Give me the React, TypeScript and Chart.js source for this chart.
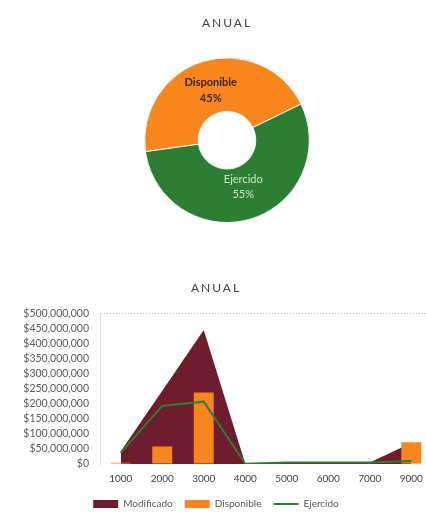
import React, { useEffect, useRef } from 'react';
import { Chart, registerables } from 'chart.js';

Chart.register(...registerables);

// ---- Data ----
const donutLabels = ['Disponible', 'Ejercido'];
const donutValues = [45, 55];

const categories = ['1000', '2000', '3000', '4000', '5000', '6000', '7000', '9000'];
const modificado = [42e6, 243e6, 445e6, 1e6, 5e6, 5e6, 5e6, 70e6];
const disponible = [4e6, 58e6, 237e6, 0, 0, 0, 0, 72e6];
const ejercido = [38e6, 193e6, 207e6, 1e6, 5e6, 5e6, 5e6, 10e6];

const yMax = 500e6;
const yStep = 50e6;

// ---- Styles ----
const FONT = 'Lato, "Open Sans", "DejaVu Sans", sans-serif';
const MAROON = '#6e1d2e';
const ORANGE = '#f7861f';
const GREEN = '#2e7d34';

const spacedTitle = {
  id: 'spacedTitle',
  beforeDraw(chart: any) {
    const tb = chart.titleBlock;
    if (tb && !tb.__spaced) {
      const orig = tb.draw.bind(tb);
      tb.draw = (...args: any[]) => {
        const ctx = chart.ctx;
        ctx.save();
        try { (ctx as any).letterSpacing = '2px'; } catch (e) { /* ignore */ }
        orig(...args);
        ctx.restore();
      };
      tb.__spaced = true;
    }
  },
};

const donutText = {
  id: 'donutText',
  afterDatasetsDraw(chart: any) {
    const ctx = chart.ctx;
    const meta = chart.getDatasetMeta(0);
    const data = chart.data.datasets[0].data as number[];
    const total = data.reduce((a: number, b: number) => a + b, 0);
    meta.data.forEach((arc: any, i: number) => {
      const p = arc.tooltipPosition();
      const pct = Math.round((data[i] / total) * 100) + '%';
      const name = chart.data.labels[i];
      ctx.save();
      ctx.textAlign = 'center';
      ctx.textBaseline = 'middle';
      if (i === 0) {
        ctx.fillStyle = '#3a2612';
        ctx.font = `bold 11px ${FONT}`;
        ctx.fillText(name, p.x, p.y - 5);
        ctx.fillText(pct, p.x, p.y + 11);
      } else {
        ctx.fillStyle = '#cfe6c9';
        ctx.font = `11px ${FONT}`;
        ctx.fillText(name, p.x, p.y - 14);
        ctx.fillText(pct, p.x, p.y + 1);
      }
      ctx.restore();
    });
  },
};

export default function App() {
  const donutRef = useRef<HTMLCanvasElement>(null);
  const comboRef = useRef<HTMLCanvasElement>(null);

  useEffect(() => {
    const c1 = new Chart(donutRef.current as HTMLCanvasElement, {
      type: 'doughnut',
      data: {
        labels: donutLabels,
        datasets: [
          {
            data: donutValues,
            backgroundColor: [ORANGE, GREEN],
            borderColor: '#f2f2f2',
            borderWidth: 1,
          },
        ],
      },
      options: {
        responsive: false,
        animation: false,
        rotation: -98,
        cutout: '35%',
        layout: { padding: { bottom: 17 } },
        plugins: {
          legend: { display: false },
          tooltip: { enabled: false },
          title: {
            display: true,
            text: 'ANUAL',
            color: '#404040',
            font: { family: FONT, size: 12, weight: 'normal' },
            padding: { top: 16, bottom: 27 },
          },
        },
      },
      plugins: [spacedTitle, donutText],
    } as any);

    const c2 = new Chart(comboRef.current as HTMLCanvasElement, {
      type: 'bar',
      data: {
        labels: categories,
        datasets: [
          {
            type: 'line',
            label: 'Modificado',
            data: modificado,
            backgroundColor: MAROON,
            borderColor: MAROON,
            borderWidth: 0,
            pointRadius: 0,
            fill: 'origin',
            tension: 0,
            order: 3,
          },
          {
            type: 'bar',
            label: 'Disponible',
            data: disponible,
            backgroundColor: ORANGE,
            barPercentage: 0.48,
            categoryPercentage: 1,
            order: 2,
          },
          {
            type: 'line',
            label: 'Ejercido',
            data: ejercido,
            borderColor: GREEN,
            backgroundColor: GREEN,
            borderWidth: 2,
            pointRadius: 0,
            fill: false,
            tension: 0,
            order: 1,
          },
        ],
      },
      options: {
        responsive: false,
        animation: false,
        layout: { padding: { left: 0, right: 12, top: 0, bottom: 5 } },
        scales: {
          x: {
            offset: true,
            afterFit: (s: any) => {
              s.height = 23;
            },
            grid: { display: false, drawTicks: false },
            border: { display: false },
            ticks: {
              color: '#404040',
              font: { family: FONT, size: 10 },
              padding: 9,
              maxRotation: 0,
              autoSkip: false,
            },
          },
          y: {
            min: 0,
            max: yMax,
            afterFit: (s: any) => {
              s.width = 100;
            },
            ticks: {
              stepSize: yStep,
              autoSkip: false,
              padding: 11,
              color: '#595959',
              font: { family: FONT, size: 10.5 },
              callback: (v: any) => '$' + Number(v).toLocaleString('en-US'),
            },
            grid: {
              drawTicks: false,
              color: (ctx: any) =>
                ctx.tick && ctx.tick.value === yMax ? '#bfbfbf' : 'rgba(0,0,0,0)',
            },
            border: { display: true, color: '#dcdcdc', dash: [1, 2] },
          },
        },
        plugins: {
          tooltip: { enabled: false },
          title: {
            display: true,
            text: 'ANUAL',
            color: '#404040',
            font: { family: FONT, size: 12, weight: 'normal' },
            padding: { top: 11, bottom: 18 },
          },
          legend: {
            position: 'bottom',
            labels: {
              usePointStyle: true,
              pointStyleWidth: 25,
              boxHeight: 8,
              padding: 12,
              color: '#595959',
              font: { family: FONT, size: 10 },
              sort: (a: any, b: any) => a.datasetIndex - b.datasetIndex,
              generateLabels: (chart: any) => {
                const items = (Chart.defaults.plugins.legend.labels as any).generateLabels(chart);
                return items.map((it: any) => {
                  if (it.datasetIndex === 2) {
                    return { ...it, pointStyle: 'line', strokeStyle: GREEN, fillStyle: GREEN, lineWidth: 2 };
                  }
                  const c = it.datasetIndex === 0 ? MAROON : ORANGE;
                  return { ...it, pointStyle: 'rect', fillStyle: c, strokeStyle: c, lineWidth: 0 };
                });
              },
            },
          },
        },
      },
      plugins: [spacedTitle],
    } as any);

    return () => {
      c1.destroy();
      c2.destroy();
    };
  }, []);

  return (
    <div
      style={{
        position: 'fixed',
        left: 0,
        top: 0,
        width: 426,
        height: 512,
        overflow: 'hidden',
        background: '#ffffff',
      }}
    >
      <div style={{ position: 'absolute', left: 14, top: 0, width: 426, height: 240 }}>
        <canvas ref={donutRef} width={426} height={240} style={{ display: 'block' }} />
      </div>
      <div style={{ position: 'absolute', left: 0, top: 270, width: 444, height: 254 }}>
        <canvas ref={comboRef} width={444} height={254} style={{ display: 'block' }} />
      </div>
    </div>
  );
}
